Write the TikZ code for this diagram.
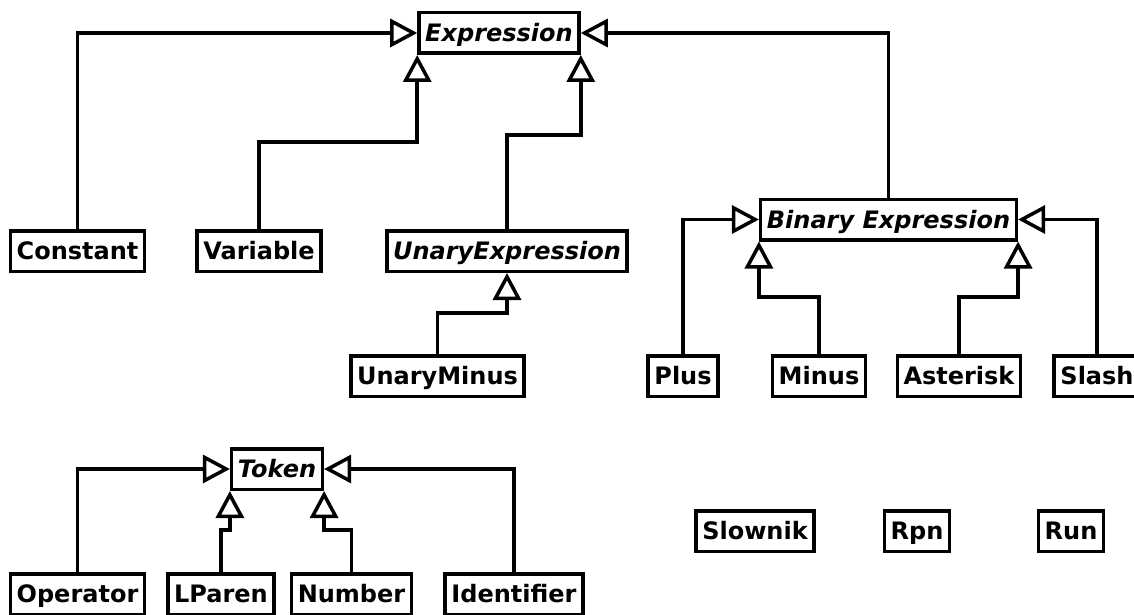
\documentclass[tikz,border=0pt]{standalone}
\usepackage{fontspec}
\setmainfont{DejaVu Sans}
\usetikzlibrary{arrows.meta}
\tikzset{
  cls/.style={draw, line width=3.5pt, inner xsep=6.25pt, inner ysep=0pt,
    minimum height=40.5pt, text height=17.5pt, text depth=0pt,
    font=\fontsize{24}{28}\selectfont\bfseries},
  abscls/.style={cls, font=\fontsize{24}{28}\selectfont\bfseries\itshape},
  gen/.style={line width=3.5pt, -{Triangle[open, length=27pt, width=28pt]}},
}
\begin{document}
\begin{tikzpicture}[x=1pt, y=-1pt]
\useasboundingbox (0,0) rectangle (1134,615);
% nodes
\node[abscls] (expression) at (499,33) {Expression};
\node[cls] (constant) at (77.5,251) {Constant};
\node[cls] (variable) at (259,251) {Variable};
\node[abscls] (unaryexpr) at (507,251) {UnaryExpression};
\node[cls] (unaryminus) at (437.5,376) {UnaryMinus};
\node[abscls] (binary) at (888.5,219.5) {Binary Expression};
\node[cls] (plus) at (683,376) {Plus};
\node[cls] (minus) at (819,376) {Minus};
\node[cls] (asterisk) at (959,376) {Asterisk};
\node[cls] (slash) at (1097,376) {Slash};
\node[abscls] (token) at (277,469) {Token};
\node[cls] (operator) at (77.5,594) {Operator};
\node[cls] (lparen) at (221,594) {LParen};
\node[cls] (number) at (351.5,594) {Number};
\node[cls] (identifier) at (514,594) {Identifier};
\node[cls] (slownik) at (755,531) {Slownik};
\node[cls] (rpn) at (917,531) {Rpn};
\node[cls] (run) at (1071,531) {Run};
% bend points
\coordinate (vbend) at (variable.north |- 0,142);
\coordinate (ubend) at (unaryexpr.north |- 0,135);
\coordinate (umbend) at (unaryminus.north |- 0,313);
\coordinate (mbend) at (minus.north |- 0,297);
\coordinate (abend) at (asterisk.north |- 0,297);
\coordinate (lbend) at (lparen.north |- 0,530);
\coordinate (nbend) at (number.north |- 0,530);
% connectors
\draw[gen] (constant.north) |- (expression.west);
\draw[gen] (variable.north) -- (vbend) -| (expression.south west);
\draw[gen] (unaryexpr.north) -- (ubend) -| (expression.south east);
\draw[gen] (binary.north) |- (expression.east);
\draw[gen] (unaryminus.north) -- (umbend) -| (unaryexpr.south);
\draw[gen] (plus.north) |- (binary.west);
\draw[gen] (minus.north) -- (mbend) -| (binary.south west);
\draw[gen] (asterisk.north) -- (abend) -| (binary.south east);
\draw[gen] (slash.north) |- (binary.east);
\draw[gen] (operator.north) |- (token.west);
\draw[gen] (lparen.north) -- (lbend) -| (token.south west);
\draw[gen] (number.north) -- (nbend) -| (token.south east);
\draw[gen] (identifier.north) |- (token.east);
\end{tikzpicture}
\end{document}
